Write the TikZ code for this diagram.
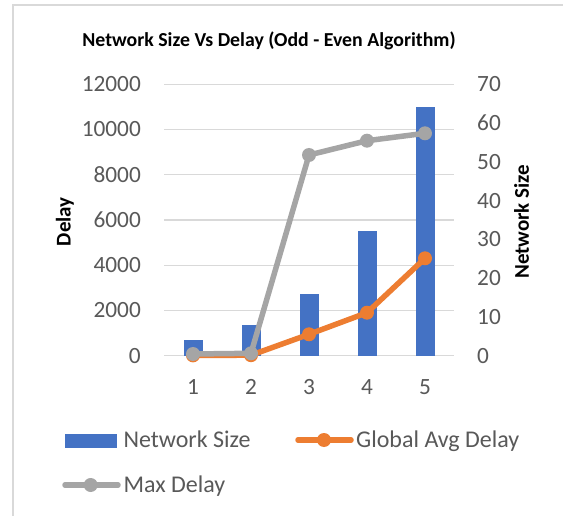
\documentclass[tikz,border=0pt]{standalone}
\usepackage{fontspec}
\setmainfont{Carlito}
\definecolor{xblue}{HTML}{4472C4}
\definecolor{xorange}{HTML}{ED7D31}
\definecolor{xgray}{HTML}{A5A5A5}
\definecolor{xgrid}{HTML}{D9D9D9}
\definecolor{xtext}{HTML}{595959}
\definecolor{xframe}{HTML}{D9D9D9}
\tikzset{
  frameline/.style={draw=xframe, line width=2pt},
  gridline/.style={draw=xgrid, line width=1.4pt},
  ticklab/.style={inner sep=0pt, text=xtext, font=\fontsize{23.3}{27}\selectfont},
  leglab/.style={inner sep=0pt, text=xtext, font=\fontsize{24}{28}\selectfont},
  axtitle/.style={inner sep=0pt, text=black, font=\bfseries\fontsize{21}{25}\selectfont, rotate=90},
  charttitle/.style={inner sep=0pt, text=black, font=\bfseries\fontsize{19.8}{24}\selectfont},
  barbox/.style={fill=xblue, draw=none, inner sep=0pt, minimum width=18.4pt},
  oline/.style={draw=xorange, line width=5.5pt, line join=round, line cap=round},
  gline/.style={draw=xgray, line width=5.5pt, line join=round, line cap=round},
  omark/.style={circle, fill=xorange, draw=none, inner sep=0pt, minimum size=14pt},
  gmark/.style={circle, fill=xgray, draw=none, inner sep=0pt, minimum size=14pt},
}
\begin{document}
\begin{tikzpicture}[x=1pt,y=-1pt]
\useasboundingbox (0,0) rectangle (563,516);
\fill[white] (0,0) rectangle (563,516);
% frame
\coordinate (fTL) at (13,5);
\coordinate (fTR) at (563,5);
\coordinate (fBL) at (13,516);
\draw[frameline] (fTR) -- (fTL) -- (fBL);
% title
\node[charttitle] (title) at (269,41) {Network Size Vs Delay (Odd - Even Algorithm)};
% gridlines and left tick labels
\foreach \k/\lab in {0/0,1/2000,2/4000,3/6000,4/8000,5/10000,6/12000} {
  \coordinate (gl\k) at (164,355.7-45.23*\k);
  \coordinate (gr\k) at (454,355.7-45.23*\k);
  \draw[gridline] (gl\k) -- (gr\k);
  \node[ticklab, anchor=base east] (ll\k) at (141,355.7-45.23*\k+7.4) {\lab};
}
% right tick labels
\foreach \k/\rlab in {0/0,1/10,2/20,3/30,4/40,5/50,6/60,7/70} {
  \node[ticklab, anchor=base west] (rl\k) at (477,355.7-38.77*\k+7.4) {\rlab};
}
% axis titles
\node[axtitle] (ytitle) at (65,221.7) {Delay};
\node[axtitle] (y2title) at (521.7,221.7) {Network Size};
% category labels
\foreach \i/\x in {1/193,2/251,3/309,4/367,5/425} {
  \node[ticklab, anchor=base] (c\i) at (\x,386.7+7.4) {\i};
}
% bars (Network Size: 4, 8, 16, 32, 64 on right axis)
\node[barbox, anchor=south, minimum height=15.5pt] (b1) at (193.5,355.7) {};
\node[barbox, anchor=south, minimum height=31.0pt] (b2) at (251.5,355.7) {};
\node[barbox, anchor=south, minimum height=62.0pt] (b3) at (309.3,355.7) {};
\node[barbox, anchor=south, minimum height=124.1pt] (b4) at (367.5,355.7) {};
\node[barbox, anchor=south, minimum height=248.1pt] (b5) at (425.5,355.7) {};
% Global Avg Delay
\coordinate (o1) at (193,355.4);
\coordinate (o2) at (251,355.2);
\coordinate (o3) at (309,334.3);
\coordinate (o4) at (367,312.7);
\coordinate (o5) at (425,258.3);
\draw[oline] (o1) -- (o2) -- (o3) -- (o4) -- (o5);
\foreach \i in {1,...,5} { \node[omark] (om\i) at (o\i) {}; }
% Max Delay
\coordinate (m1) at (193,354.0);
\coordinate (m2) at (251,353.3);
\coordinate (m3) at (309,155.0);
\coordinate (m4) at (367,140.7);
\coordinate (m5) at (425,133.3);
\draw[gline] (m1) -- (m2) -- (m3) -- (m4) -- (m5);
\foreach \i in {1,...,5} { \node[gmark] (gm\i) at (m\i) {}; }
% legend
\node[fill=xblue, inner sep=0pt, minimum width=51.7pt, minimum height=13.4pt] (lgb) at (90.85,441) {};
\node[leglab, anchor=base west] (lgbt) at (123.3,447.6) {Network Size};
\coordinate (lgoa) at (298,440);
\coordinate (lgob) at (351,440);
\draw[oline] (lgoa) -- (lgob);
\node[omark] (lgom) at (324,440) {};
\node[leglab, anchor=base west] (lgot) at (356,447.6) {Global Avg Delay};
\coordinate (lgga) at (65,485);
\coordinate (lggb) at (118,485);
\draw[gline] (lgga) -- (lggb);
\node[gmark] (lggm) at (90.7,485) {};
\node[leglab, anchor=base west] (lggt) at (123.3,492.6) {Max Delay};
\end{tikzpicture}
\end{document}
